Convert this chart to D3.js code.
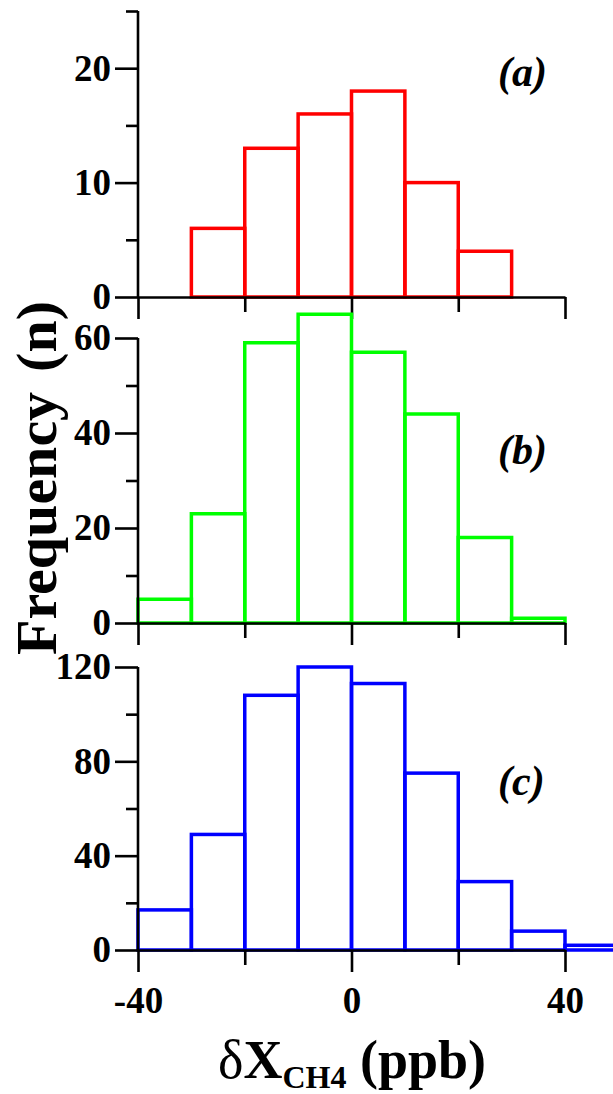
<!DOCTYPE html>
<html>
<head>
<meta charset="utf-8">
<script src="https://cdn.jsdelivr.net/npm/d3@7"></script>
<style>
  body { margin: 0; background: #fff; }
  svg { display: block; }
  text { font-family: "Liberation Serif", "Times New Roman", serif; font-weight: bold; }
</style>
</head>
<body>
<div class="chart1"></div>
<script>
// bin left edges (ppb), each bin is 10 wide
var binLeft = [-40, -30, -20, -10, 0, 10, 20, 30, 40];
var binWidth = 10;

// counts per bin, 0 = no bar drawn
var countsA = [0, 6, 13, 16, 18, 10, 4, 0, 0];
var countsB = [5, 23, 59, 65, 57, 44, 18, 1, 0];
var countsC = [17, 49, 108, 120, 113, 75, 29, 8, 2];

var xMajor = [-40, 0, 40];
var xMinor = [-20, 20];

var W = 613, H = 1094;
var svg = d3.select(".chart1").append("svg").attr("width", W).attr("height", H);

var x = d3.scaleLinear().domain([-40, 40]).range([138, 565]);

// one entry per panel
var panels = [
  {counts: countsA, color: "#ff0000", max: 25, major: [0, 10, 20], minor: [5, 15, 25], y0: 297, yTop: 11, label: "a", labelY: 86},
  {counts: countsB, color: "#00ff00", max: 60, major: [0, 20, 40, 60], minor: [10, 30, 50], y0: 623, yTop: 338, label: "b", labelY: 464},
  {counts: countsC, color: "#0000ff", max: 120, major: [0, 40, 80, 120], minor: [20, 60, 100], y0: 950, yTop: 667, label: "c", labelY: 795}
];

function styleAxis(g) {
  g.selectAll("path").attr("stroke", "#000").attr("stroke-width", 2.6);
  g.selectAll("line").attr("stroke", "#000").attr("stroke-width", 2.6);
  g.selectAll("text").attr("fill", "#000").style("font-size", "37px").style("font-family", "Liberation Serif, serif").style("font-weight", "bold");
}

panels.forEach(function (p, i) {
  var y = d3.scaleLinear().domain([0, p.max]).range([p.y0, p.yTop]);
  var last = (i == panels.length - 1);

  // bars first so the axes stay visible
  var bars = binLeft.map(function (b, k) { return {x: b, n: p.counts[k]}; })
    .filter(function (d) { return d.n > 0; });

  svg.append("g").selectAll("rect").data(bars).enter().append("rect")
    .attr("x", function (d) { return x(d.x); })
    .attr("y", function (d) { return y(d.n); })
    .attr("width", function (d) { return x(d.x + binWidth) - x(d.x); })
    .attr("height", function (d) { return y(0) - y(d.n); })
    .attr("fill", "none")
    .attr("stroke", p.color)
    .attr("stroke-width", 3.5);

  // x axis: major + minor ticks, labels only on the bottom panel
  var gx = svg.append("g").attr("transform", "translate(0," + p.y0 + ")")
    .call(d3.axisBottom(x).tickValues(xMajor).tickSize(22).tickSizeOuter(0).tickPadding(15));
  styleAxis(gx);
  gx.selectAll("text").text(function (d) { return last ? (d < 0 ? "-" + (-d) : d) : ""; });
  var gx2 = svg.append("g").attr("transform", "translate(0," + p.y0 + ")")
    .call(d3.axisBottom(x).tickValues(xMinor).tickSize(15).tickSizeOuter(0).tickFormat(""));
  styleAxis(gx2);
  gx2.select("path").remove();

  // y axis
  var gy = svg.append("g").attr("transform", "translate(" + x(-40) + ",0)")
    .call(d3.axisLeft(y).tickValues(p.major).tickSize(23).tickSizeOuter(0).tickPadding(4));
  styleAxis(gy);
  var gy2 = svg.append("g").attr("transform", "translate(" + x(-40) + ",0)")
    .call(d3.axisLeft(y).tickValues(p.minor).tickSize(12).tickSizeOuter(0).tickFormat(""));
  styleAxis(gy2);
  gy2.select("path").remove();
  // domain must reach the top minor tick (panel a ends at 25)
  gy.select("path").attr("d", "M0," + y(p.max) + "V" + y(0));

  // panel tag
  svg.append("text")
    .attr("x", 498).attr("y", p.labelY)
    .style("font-size", "42px")
    .style("font-style", "italic")
    .text("(" + p.label + ")");
});

// y title, wider gap before (n)
var yt = svg.append("text")
  .attr("transform", "translate(56,478) rotate(-90)")
  .attr("text-anchor", "middle")
  .style("font-size", "58px");
yt.append("tspan").text("Frequency");
yt.append("tspan").attr("dx", 20).text("(n)");

// x title
var xt = svg.append("text")
  .attr("x", 352).attr("y", 1078)
  .attr("text-anchor", "middle")
  .style("font-size", "54px");
xt.append("tspan").style("font-weight", "normal").text("\u03b4");
xt.append("tspan").text("X");
xt.append("tspan").attr("dy", 10).style("font-size", "32px").text("CH4");
xt.append("tspan").attr("dy", -10).text(" (ppb)");
</script>
</body>
</html>
